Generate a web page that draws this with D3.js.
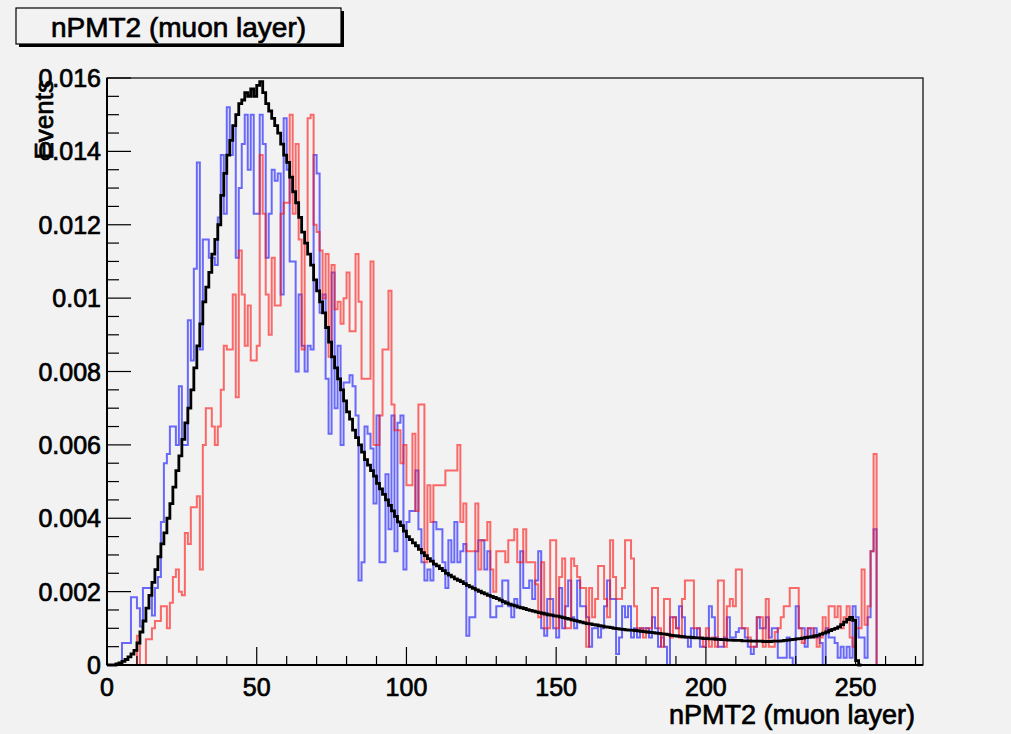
<!DOCTYPE html>
<html>
<head>
<meta charset="utf-8">
<script src="https://cdn.jsdelivr.net/npm/d3@7"></script>
<style>
  html, body { margin: 0; padding: 0; background: #f2f2f2; }
  svg { display: block; }
  text { font-family: "Liberation Sans", Arial, Helvetica, sans-serif; fill: #000; stroke: #000; stroke-width: 0.7px; }
</style>
</head>
<body>
<div id="chart"></div>
<script>
// nPMT2 (muon layer) histograms, bin width 1, values in units of 1e-3
const SCALE_UNIT = 1e-3;

// black reference histogram (bins 0..251)
const blackBins = [
  0, 0, 0, 0.03, 0.06, 0.1, 0.15, 0.22, 0.3, 0.4,
  0.6, 0.9, 1.2, 1.55, 1.9, 2.25, 2.6, 2.95, 3.3, 3.6,
  4.0, 4.4, 4.85, 5.3, 5.7, 6.15, 6.6, 7.0, 7.5, 8.1,
  8.7, 9.3, 9.9, 10.3, 10.7, 11.2, 11.6, 12.0, 12.8, 13.4,
  13.9, 14.3, 14.7, 15.0, 15.3, 15.4, 15.6, 15.5, 15.7, 15.5,
  15.8, 15.9, 15.6, 15.3, 15.1, 14.9, 14.7, 14.5, 14.2, 13.9,
  13.7, 13.3, 12.9, 12.6, 12.2, 11.8, 11.5, 11.2, 10.9, 10.5,
  10.2, 9.9, 9.6, 9.2, 8.8, 8.4, 8.1, 7.8, 7.5, 7.2,
  6.9, 6.7, 6.4, 6.2, 6.0, 5.8, 5.6, 5.45, 5.3, 5.15,
  4.95, 4.8, 4.65, 4.5, 4.35, 4.2, 4.05, 3.9, 3.8, 3.65,
  3.5, 3.42, 3.33, 3.25, 3.15, 3.06, 2.98, 2.9, 2.83, 2.75,
  2.7, 2.63, 2.57, 2.5, 2.45, 2.4, 2.35, 2.31, 2.27, 2.22,
  2.17, 2.13, 2.09, 2.05, 2.01, 1.97, 1.94, 1.9, 1.87, 1.84,
  1.81, 1.77, 1.73, 1.69, 1.66, 1.63, 1.61, 1.58, 1.56, 1.54,
  1.51, 1.49, 1.47, 1.45, 1.43, 1.41, 1.39, 1.37, 1.36, 1.34,
  1.33, 1.31, 1.29, 1.27, 1.25, 1.23, 1.21, 1.19, 1.17, 1.15,
  1.13, 1.12, 1.1, 1.09, 1.07, 1.06, 1.04, 1.03, 1.02, 1.0,
  0.99, 0.98, 0.97, 0.96, 0.95, 0.95, 0.94, 0.93, 0.92, 0.91,
  0.9, 0.89, 0.88, 0.87, 0.86, 0.85, 0.84, 0.83, 0.81, 0.8,
  0.79, 0.78, 0.77, 0.76, 0.76, 0.75, 0.74, 0.74, 0.73, 0.72,
  0.72, 0.71, 0.71, 0.7, 0.7, 0.69, 0.69, 0.68, 0.68, 0.67,
  0.67, 0.67, 0.66, 0.66, 0.66, 0.65, 0.65, 0.65, 0.65, 0.64,
  0.64, 0.64, 0.65, 0.65, 0.65, 0.66, 0.67, 0.68, 0.69, 0.7,
  0.71, 0.72, 0.73, 0.75, 0.76, 0.77, 0.79, 0.81, 0.84, 0.87,
  0.9, 0.94, 0.97, 1.0, 1.04, 1.1, 1.17, 1.24, 1.3, 1.22,
  0.12, 0
];

// blue histogram (bins 0..257)
const blueBins = [
  0, 0, 0, 0, 0, 0.6, 0.6, 0.6, 1.85, 1.85,
  1.55, 1.05, 2.1, 2.1, 2.1, 1.35, 2.1, 2.4, 3.9, 5.5,
  5.75, 6.5, 6.5, 6.0, 7.6, 6.0, 6.0, 9.4, 8.3, 10.8,
  13.7, 8.6, 11.6, 11.6, 11.1, 11.1, 10.9, 12.2, 13.9, 12.3,
  15.2, 13.9, 14.7, 11.1, 13.0, 14.2, 15.0, 13.5, 15.0, 12.3,
  12.3, 15.0, 14.2, 11.1, 12.3, 13.5, 13.2, 13.4, 10.1, 14.9,
  13.5, 11.0, 11.0, 8.0, 10.1, 8.7, 8.0, 8.7, 8.6, 13.9,
  13.4, 9.6, 10.1, 7.8, 6.3, 10.7, 7.0, 8.7, 6.0, 7.7,
  7.7, 7.9, 7.6, 6.8, 2.3, 2.8, 6.5, 6.3, 5.9, 4.4,
  6.8, 2.8, 2.8, 5.2, 3.7, 6.8, 3.1, 6.6, 6.8, 2.6,
  3.9, 4.2, 4.2, 5.3, 3.7, 2.8, 2.3, 2.6, 2.3, 3.9,
  3.7, 3.7, 2.8, 2.1, 3.4, 2.8, 3.9, 2.8, 3.1, 3.3,
  0.8, 1.3, 1.3, 3.1, 3.4, 3.4, 2.6, 3.1, 1.3, 1.3,
  1.6, 1.6, 2.3, 2.3, 1.6, 1.3, 1.8, 1.6, 3.1, 2.1,
  2.1, 2.3, 1.8, 2.3, 3.1, 1.0, 0.8, 1.8, 1.8, 1.0,
  0.75, 2.1, 1.0, 1.6, 2.3, 1.3, 1.0, 2.3, 1.6, 1.6,
  1.3, 0.5, 1.0, 1.0, 0.75, 1.0, 1.6, 2.3, 1.8, 1.8,
  0.3, 0.75, 1.6, 1.3, 1.6, 0.75, 1.0, 0.75, 1.0, 1.0,
  1.0, 0.75, 1.3, 1.0, 0.5, 0.75, 0.5, 0, 1.3, 1.3,
  1.0, 1.6, 1.3, 0.75, 0.5, 1.0, 0.75, 1.0, 0.5, 0.5,
  0.75, 1.6, 1.3, 0.75, 0.5, 0.5, 0.75, 1.3, 0.75, 0.75,
  0.9, 1.0, 1.0, 0.75, 0.5, 0.3, 0.5, 1.3, 1.0, 1.0,
  1.3, 0.75, 1.0, 1.0, 0.2, 0.2, 0.2, 0.75, 0.2, 0,
  1.6, 1.0, 1.0, 0.5, 1.0, 0.75, 1.0, 0.75, 0.6, 0,
  1.0, 0.75, 0.75, 0.6, 0.2, 0.5, 0.2, 0.5, 0.2, 1.6,
  1.3, 0.75, 0.75, 0.2, 1.3, 3.1, 3.7, 0
];

// red histogram (bins 0..257)
const redBins = [
  0, 0, 0, 0, 0, 0, 0, 0, 0, 0,
  0.8, 0, 0, 0.7, 0.7, 1.0, 1.2, 1.2, 1.6, 1.6,
  1.0, 1.7, 2.4, 2.6, 2.0, 1.9, 3.6, 3.3, 4.3, 4.3,
  4.6, 2.6, 6.0, 7.0, 7.0, 6.5, 6.0, 6.5, 7.5, 8.7,
  8.6, 8.6, 10.1, 7.3, 11.3, 10.1, 8.7, 9.8, 8.3, 8.3,
  8.7, 13.9, 12.3, 10.1, 9.0, 11.1, 9.8, 9.8, 12.3, 12.6,
  12.6, 15.0, 12.3, 14.2, 11.6, 8.6, 11.5, 14.9, 15.0, 12.0,
  11.8, 11.3, 10.0, 11.2, 8.4, 10.9, 9.7, 9.9, 9.3, 10.0,
  10.7, 9.1, 9.1, 11.2, 9.9, 7.8, 7.8, 7.8, 11.0, 6.0,
  6.0, 6.8, 8.6, 8.6, 10.2, 7.1, 6.4, 6.4, 5.5, 6.0,
  4.9, 4.9, 6.3, 4.2, 7.1, 7.1, 2.8, 4.9, 3.9, 4.9,
  4.9, 4.9, 4.9, 5.3, 5.3, 5.3, 5.3, 6.0, 3.9, 4.4,
  3.1, 3.1, 3.1, 4.4, 2.6, 3.4, 3.4, 3.9, 2.6, 2.0,
  3.1, 3.1, 3.1, 2.8, 3.4, 3.4, 3.7, 2.8, 2.8, 3.7,
  2.8, 2.8, 2.8, 2.2, 1.3, 2.8, 1.0, 1.0, 3.4, 3.4,
  1.0, 2.4, 2.9, 1.0, 1.0, 2.9, 2.7, 2.4, 2.1, 2.1,
  0.5, 2.1, 1.3, 1.8, 2.7, 2.7, 1.8, 1.3, 3.4, 2.4,
  1.8, 1.8, 2.1, 3.4, 3.4, 2.9, 1.6, 1.0, 1.0, 0.75,
  1.0, 1.0, 2.1, 2.1, 1.0, 0.5, 1.8, 1.8, 0.75, 1.3,
  1.0, 0.75, 1.8, 2.3, 2.3, 2.3, 1.0, 1.0, 0.75, 0.5,
  1.0, 0.5, 0.75, 0.5, 2.3, 2.3, 0.5, 1.6, 1.8, 1.6,
  2.6, 2.6, 1.0, 1.0, 0.75, 0.5, 0.5, 1.3, 1.3, 0.5,
  1.8, 0.5, 0.5, 0.9, 1.0, 1.3, 1.6, 1.6, 2.1, 2.1,
  2.1, 1.0, 0.6, 0.75, 1.0, 1.0, 0.75, 0.5, 0.75, 1.3,
  0.9, 1.6, 1.6, 1.3, 1.6, 1.0, 1.3, 1.6, 0.75, 0.5,
  1.0, 1.0, 2.6, 1.1, 1.6, 3.1, 5.75, 0
];

const yTickValues = [0, 0.002, 0.004, 0.006, 0.008, 0.01, 0.012, 0.014, 0.016];
const xTickValues = [0, 50, 100, 150, 200, 250];
const TITLE = "nPMT2 (muon layer)";
const X_TITLE = "nPMT2 (muon layer)";
const Y_TITLE = "Events";

// ── layout ──
const W = 1011, H = 734;
const FRAME = { left: 107, right: 923, top: 78, bottom: 665 };
const FONT = 25;

const svg = d3.select("#chart").append("svg")
  .attr("width", W).attr("height", H);

svg.append("rect").attr("width", W).attr("height", H).attr("fill", "#f2f2f2");

const x = d3.scaleLinear().domain([0, 272.5]).range([FRAME.left, FRAME.right]);
const y = d3.scaleLinear().domain([0, 0.016]).range([FRAME.bottom, FRAME.top]);

// frame
svg.append("rect")
  .attr("x", FRAME.left).attr("y", FRAME.top)
  .attr("width", FRAME.right - FRAME.left).attr("height", FRAME.bottom - FRAME.top)
  .attr("fill", "#f2f2f2").attr("stroke", "#000").attr("stroke-width", 1.2);

// histograms as step outlines
function stepPath(bins) {
  const pts = bins.map((v, i) => [i, v * SCALE_UNIT]);
  pts.push([bins.length, bins[bins.length - 1] * SCALE_UNIT]);
  return d3.line().x(d => x(d[0])).y(d => y(d[1])).curve(d3.curveStepAfter)(pts);
}

const plot = svg.append("g");
plot.append("path").attr("d", stepPath(blueBins))
  .attr("fill", "none").attr("stroke", "rgba(20,20,255,0.62)").attr("stroke-width", 2);
plot.append("path").attr("d", stepPath(redBins))
  .attr("fill", "none").attr("stroke", "rgba(255,20,20,0.62)").attr("stroke-width", 2);
plot.append("path").attr("d", stepPath(blackBins))
  .attr("fill", "none").attr("stroke", "#000").attr("stroke-width", 2.8)
  .attr("stroke-linejoin", "miter");

// ── axes (ROOT style: ticks inside the frame) ──
const yMinor = d3.range(0, 0.01601, 0.0005);
const xMinor = d3.range(0, 271, 10);

const yAxis = svg.append("g").attr("class", "axis-y");
yAxis.selectAll("line").data(yMinor).join("line")
  .attr("x1", FRAME.left).attr("x2", d => FRAME.left + (yTickValues.some(t => Math.abs(t - d) < 1e-9) ? 24 : 12))
  .attr("y1", d => y(d)).attr("y2", d => y(d))
  .attr("stroke", "#000").attr("stroke-width", 1.2);
yAxis.selectAll("text").data(yTickValues).join("text")
  .attr("x", 101).attr("y", d => y(d)).attr("dy", "0.36em")
  .attr("text-anchor", "end").attr("font-size", FONT)
  .text(d => d === 0 ? "0" : d3.format("~g")(d));

const xAxis = svg.append("g").attr("class", "axis-x");
xAxis.selectAll("line").data(xMinor).join("line")
  .attr("x1", d => x(d)).attr("x2", d => x(d))
  .attr("y1", FRAME.bottom).attr("y2", d => FRAME.bottom - (d % 50 === 0 ? 18 : 9))
  .attr("stroke", "#000").attr("stroke-width", 1.2);
xAxis.selectAll("text").data(xTickValues).join("text")
  .attr("x", d => x(d)).attr("y", 696)
  .attr("text-anchor", "middle").attr("font-size", FONT)
  .text(d => d);

// axis lines
svg.append("line").attr("x1", FRAME.left).attr("x2", FRAME.left)
  .attr("y1", FRAME.top).attr("y2", FRAME.bottom).attr("stroke", "#000").attr("stroke-width", 2);
svg.append("line").attr("x1", FRAME.left).attr("x2", FRAME.right)
  .attr("y1", FRAME.bottom).attr("y2", FRAME.bottom).attr("stroke", "#000").attr("stroke-width", 2);

// axis titles
svg.append("text").attr("x", 915).attr("y", 724)
  .attr("text-anchor", "end").attr("font-size", 27).text(X_TITLE);
svg.append("text")
  .attr("transform", "translate(53,80) rotate(-90)")
  .attr("text-anchor", "end").attr("font-size", 26).text(Y_TITLE);

// title box with shadow
const tb = { x: 16, y: 8, w: 325, h: 36 };
svg.append("rect").attr("x", tb.x + 3).attr("y", tb.y + 3).attr("width", tb.w).attr("height", tb.h).attr("fill", "#000");
svg.append("rect").attr("x", tb.x).attr("y", tb.y).attr("width", tb.w).attr("height", tb.h)
  .attr("fill", "#f2f2f2").attr("stroke", "#000").attr("stroke-width", 1.2);
svg.append("text").attr("x", tb.x + tb.w / 2).attr("y", tb.y + 29)
  .attr("text-anchor", "middle").attr("font-size", 28).text(TITLE);
</script>
</body>
</html>
